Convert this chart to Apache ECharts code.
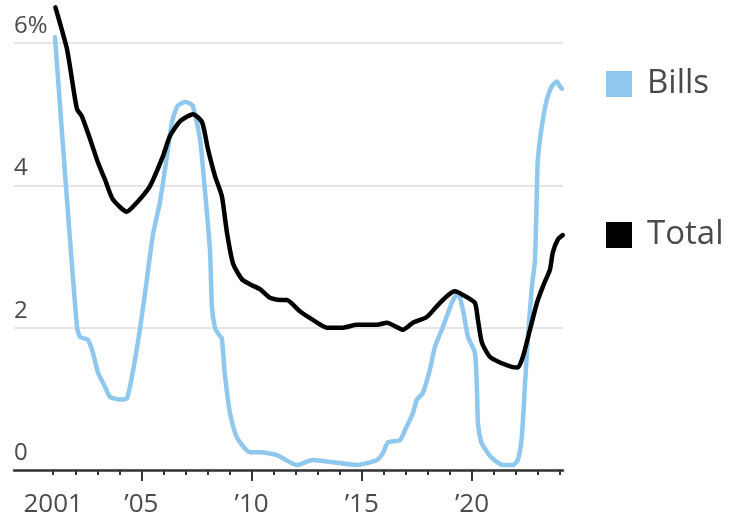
<!DOCTYPE html>
<html>
<head>
<meta charset="utf-8">
<script src="https://cdn.jsdelivr.net/npm/echarts@6/dist/echarts.min.js"></script>
<style>
html,body{margin:0;padding:0;background:#fff;}
#chart{width:730px;height:526px;}
</style>
</head>
<body>
<div id="chart"></div>
<script>
// Series names
const seriesNames = ['Bills', 'Total'];

// Bills (light blue) — year, percent
const billsYears = [2001.08, 2001.42, 2001.76, 2002.08, 2002.21, 2002.57, 2002.80, 2003.03, 2003.35, 2003.57,
  2004.03, 2004.34, 2004.57, 2004.93, 2005.25, 2005.52, 2005.84, 2006.16, 2006.39, 2006.61,
  2006.75, 2006.98, 2007.20, 2007.34, 2007.66, 2007.88, 2008.11, 2008.20, 2008.34, 2008.52,
  2008.65, 2008.78, 2009.02, 2009.33, 2009.92, 2010.38, 2011.15, 2012.06, 2012.78, 2013.69,
  2014.78, 2015.69, 2015.96, 2016.19, 2016.73, 2016.96, 2017.32, 2017.50, 2017.77, 2018.09,
  2018.32, 2018.68, 2019.09, 2019.36, 2019.59, 2019.82, 2020.13, 2020.22, 2020.27, 2020.41,
  2020.59, 2020.90, 2021.40, 2021.86, 2022.08, 2022.26, 2022.40, 2022.54, 2022.72, 2022.86,
  2022.95, 2022.99, 2023.17, 2023.40, 2023.62, 2023.85, 2023.99, 2024.08];
const billsValues = [6.08, 4.65, 3.24, 2.01, 1.87, 1.83, 1.65, 1.37, 1.17, 1.03,
  0.99, 1.01, 1.31, 1.97, 2.68, 3.30, 3.76, 4.41, 4.89, 5.10,
  5.14, 5.17, 5.15, 5.11, 4.65, 3.94, 3.10, 2.30, 2.00, 1.90,
  1.85, 1.37, 0.80, 0.46, 0.25, 0.25, 0.21, 0.07, 0.14, 0.11,
  0.07, 0.14, 0.24, 0.39, 0.42, 0.56, 0.80, 0.99, 1.08, 1.41,
  1.73, 2.01, 2.35, 2.49, 2.25, 1.87, 1.65, 1.20, 0.66, 0.40,
  0.30, 0.17, 0.07, 0.07, 0.14, 0.46, 1.17, 1.87, 2.58, 2.96,
  3.99, 4.37, 4.83, 5.21, 5.39, 5.46, 5.39, 5.36];

// Total (black) — year, percent
const totalYears = [2001.10, 2001.62, 2001.85, 2002.08, 2002.30, 2002.67, 2003.03, 2003.35, 2003.71, 2004.34,
  2004.80, 2005.39, 2005.98, 2006.29, 2006.75, 2007.34, 2007.75, 2008.02, 2008.34, 2008.65,
  2008.88, 2009.16, 2009.56, 2009.92, 2010.38, 2010.83, 2011.29, 2011.60, 2012.19, 2012.78,
  2013.42, 2014.14, 2014.78, 2015.69, 2016.14, 2016.64, 2016.87, 2017.32, 2017.95, 2018.40,
  2018.86, 2019.22, 2019.59, 2020.13, 2020.27, 2020.45, 2020.81, 2021.27, 2021.81, 2022.08,
  2022.31, 2022.63, 2022.95, 2023.22, 2023.54, 2023.67, 2023.90, 2024.12];
const totalValues = [6.50, 5.92, 5.49, 5.07, 4.97, 4.65, 4.32, 4.08, 3.80, 3.63,
  3.76, 3.99, 4.41, 4.69, 4.90, 5.00, 4.89, 4.51, 4.13, 3.85,
  3.34, 2.90, 2.68, 2.61, 2.54, 2.42, 2.39, 2.39, 2.23, 2.11,
  2.00, 2.00, 2.04, 2.04, 2.07, 2.00, 1.97, 2.07, 2.15, 2.30,
  2.44, 2.51, 2.46, 2.35, 2.11, 1.79, 1.59, 1.51, 1.45, 1.44,
  1.59, 1.97, 2.35, 2.58, 2.82, 3.06, 3.24, 3.30];

// Axis ticks/labels
const yTicks = [0, 2, 4, 6];
const minorTickYears = [2001, 2002, 2003, 2004, 2006, 2007, 2008, 2009, 2011, 2012, 2013, 2014,
  2016, 2017, 2018, 2019, 2021, 2022, 2023, 2024];
const majorTickYears = [2005, 2010, 2015, 2020];
const xLabelYears = [2001, 2005, 2010, 2015, 2020];
const xLabelTexts = ['2001', '\u201905', '\u201910', '\u201915', '\u201920'];

const colors = ['#8ec8ee', '#000000'];
const FONT = "'Open Sans', 'Noto Sans', sans-serif";
const TEXT = '#4a4a4a';
const X_MIN = 1999.22, X_MAX = 2024.13;

function pairs(xs, ys) { return xs.map((x, i) => [x, ys[i]]); }

const chart = echarts.init(document.getElementById('chart'), null, {renderer: 'canvas'});
chart.setOption({
  animation: false,
  backgroundColor: '#fff',
  color: colors,
  grid: {left: 14, right: 167, top: 43, bottom: 56, containLabel: false},
  legend: {
    orient: 'vertical',
    left: 601,
    top: 62,
    itemWidth: 26,
    itemHeight: 26,
    itemGap: 117,
    icon: 'rect',
    data: seriesNames,
    textStyle: {fontFamily: FONT, fontSize: 33, color: TEXT, lineHeight: 34, padding: [0, 0, 0, 10]}
  },
  xAxis: [
    {
      type: 'value', position: 'bottom', min: X_MIN, max: X_MAX,
      axisLine: {show: true, lineStyle: {color: '#333', width: 2.5}},
      axisTick: {show: true, customValues: minorTickYears, length: 5, lineStyle: {color: '#333', width: 2}},
      axisLabel: {show: false},
      splitLine: {show: false}
    },
    {
      type: 'value', position: 'bottom', min: X_MIN, max: X_MAX,
      axisLine: {show: false},
      axisTick: {show: true, customValues: majorTickYears, length: 11, lineStyle: {color: '#333', width: 2}},
      axisLabel: {
        show: true, customValues: xLabelYears, margin: 22,
        fontFamily: FONT, fontSize: 26, color: TEXT,
        formatter: v => { const i = xLabelYears.indexOf(Math.round(v)); return i >= 0 ? xLabelTexts[i] : ''; }
      },
      splitLine: {show: false}
    }
  ],
  yAxis: {
    type: 'value', min: 0, max: 6, interval: 2,
    axisLine: {show: false},
    axisTick: {show: false},
    axisLabel: {
      inside: true, margin: 0, align: 'left', verticalAlign: 'bottom',
      padding: [0, 0, 5, 0],
      fontFamily: FONT, fontSize: 24, color: TEXT,
      formatter: v => (v === 6 ? '6%' : String(v))
    },
    splitLine: {
      show: true,
      lineStyle: {color: '#dddddd', width: 1.5}
    }
  },
  series: [
    {
      name: seriesNames[0], type: 'line', xAxisIndex: 0,
      data: pairs(billsYears, billsValues),
      showSymbol: false, symbol: 'none', clip: false,
      smooth: 0.2,
      lineStyle: {color: colors[0], width: 4.5, join: 'round', cap: 'round'},
      itemStyle: {color: colors[0]}
    },
    {
      name: seriesNames[1], type: 'line', xAxisIndex: 0,
      data: pairs(totalYears, totalValues),
      showSymbol: false, symbol: 'none', clip: false,
      smooth: 0.2,
      lineStyle: {color: colors[1], width: 4.5, join: 'round', cap: 'round'},
      itemStyle: {color: colors[1]}
    }
  ]
});
</script>
</body>
</html>
